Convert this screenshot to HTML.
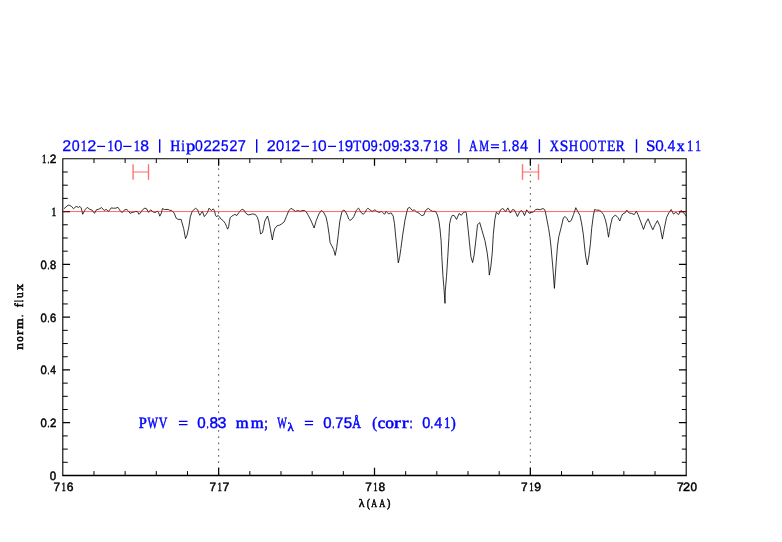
<!DOCTYPE html><html><head><meta charset="utf-8"><style>html,body{margin:0;padding:0;background:#fff;}svg{display:block;will-change:transform;}text{font-family:"Liberation Serif",serif;font-weight:normal;text-rendering:geometricPrecision;}</style></head><body>
<svg width="782" height="542" viewBox="0 0 782 542">
<rect width="782" height="542" fill="#fff"/>
<line x1="218.65" y1="158.80" x2="218.65" y2="475.50" stroke="#4a4a4a" stroke-width="1.0" stroke-dasharray="1.6 4.634" stroke-dashoffset="-9.5"/>
<line x1="530.35" y1="158.80" x2="530.35" y2="475.50" stroke="#4a4a4a" stroke-width="1.0" stroke-dasharray="1.6 4.634" stroke-dashoffset="-9.5"/>
<polyline points="64.0,208.7 68.1,205.1 69.7,205.4 71.5,206.4 73.5,208.7 76.1,206.4 78.4,207.4 79.9,206.4 81.2,207.9 82.7,214.3 84.0,211.8 85.5,209.2 87.3,207.4 89.6,209.2 92.2,210.2 94.5,213.3 96.5,209.7 98.8,209.2 101.6,207.6 104.2,210.5 106.1,209.4 108.6,211.4 111.2,207.9 113.4,208.2 115.7,208.2 117.9,207.3 119.2,209.2 120.5,211.4 122.4,212.4 124.6,209.8 126.9,209.5 128.5,211.1 130.1,213.4 132.0,212.4 133.9,212.1 135.8,211.4 137.7,211.8 139.0,214.3 140.3,213.0 142.5,209.8 144.8,208.2 146.4,208.6 148.6,212.4 150.6,209.8 153.4,212.1 155.4,212.4 157.6,211.1 158.5,212.4 159.8,216.2 161.4,213.0 162.4,208.6 164.6,209.5 168.1,209.4 169.4,210.2 171.7,210.5 172.2,210.9 174.1,213.1 176.3,218.3 178.1,219.4 181.1,219.4 181.8,222.0 183.7,228.6 185.5,238.6 187.0,235.3 188.8,227.1 190.3,216.8 192.2,211.3 195.5,208.3 197.7,209.8 198.6,212.7 199.8,215.3 201.1,213.3 202.4,211.4 204.3,216.6 206.2,214.3 207.5,212.4 209.1,208.2 211.3,210.5 213.3,208.9 214.5,210.8 215.5,215.3 216.4,216.6 218.3,215.5 219.4,216.9 221.1,219.1 223.3,220.8 225.2,223.3 226.6,226.6 227.6,229.1 228.6,227.1 229.4,221.6 230.2,217.7 231.9,216.1 233.8,215.0 234.9,214.4 236.9,215.5 238.8,212.7 240.5,210.5 242.1,209.3 243.8,210.0 245.8,213.2 248.2,214.9 250.0,214.6 252.8,213.9 255.5,214.6 257.4,217.4 258.8,222.0 259.7,228.4 260.6,234.0 262.5,232.6 263.6,227.5 264.8,221.1 267.5,216.0 268.9,221.1 270.3,228.4 271.7,236.7 272.4,240.0 273.5,233.1 274.9,228.4 277.2,225.7 279.5,225.2 281.8,223.8 284.1,222.0 286.4,216.5 288.7,210.9 291.0,208.3 292.9,209.5 295.5,211.4 297.8,210.5 300.0,211.4 302.2,210.5 304.5,210.5 306.4,212.1 308.6,215.9 311.2,221.0 314.1,228.0 316.3,220.4 318.9,214.0 321.4,210.4 323.5,212.1 326.1,217.2 327.6,224.3 329.1,234.4 330.1,242.6 331.7,245.6 333.7,249.7 335.2,255.4 336.7,247.6 338.2,235.5 339.8,221.2 341.8,212.1 343.3,210.1 344.8,210.6 347.4,215.3 348.7,219.1 350.0,220.4 351.9,219.1 353.8,216.6 355.1,213.3 356.4,210.2 358.5,208.1 359.9,210.5 361.2,212.7 363.4,214.3 365.0,212.4 366.6,209.5 367.9,208.2 369.8,209.8 372.1,211.4 373.6,210.5 374.9,209.8 376.8,211.4 379.1,212.4 381.6,211.4 382.9,212.7 384.5,214.3 386.1,211.4 388.7,214.0 390.6,213.0 391.2,212.9 393.2,216.1 394.5,223.8 395.7,236.8 397.0,249.7 398.3,262.9 399.6,257.4 400.9,248.4 402.8,234.2 405.0,220.1 406.8,212.0 407.9,208.3 409.7,207.4 412.3,210.5 414.2,209.8 416.7,212.0 419.0,213.1 421.5,215.7 423.8,215.0 425.6,210.5 428.2,208.3 430.4,210.2 432.6,211.3 435.6,211.4 437.4,215.0 438.9,220.9 440.0,229.0 441.1,240.7 441.8,256.3 442.9,275.2 443.9,287.7 445.0,303.4 445.3,290.9 446.5,276.7 447.8,256.3 448.9,237.5 449.6,223.8 451.0,217.9 452.4,215.3 454.3,215.7 456.5,219.4 459.1,213.5 461.3,215.3 463.5,212.4 465.7,211.8 466.4,213.5 467.9,227.1 469.4,241.9 470.9,256.7 472.6,262.6 474.1,255.2 476.0,239.0 477.5,224.9 479.7,222.5 481.9,230.1 484.9,240.4 487.1,252.2 488.6,264.0 489.3,275.1 490.8,267.0 492.3,252.2 493.3,234.5 494.8,219.8 496.3,212.2 498.6,214.4 500.5,209.8 502.7,208.5 504.0,209.5 505.6,211.7 507.8,207.9 509.1,210.5 510.4,213.0 512.6,209.5 514.5,210.1 516.1,213.3 517.4,216.5 519.7,211.7 521.6,210.5 523.2,212.7 524.5,215.6 526.7,209.8 528.0,211.7 529.2,213.3 530.8,212.4 533.4,212.1 535.6,209.5 537.9,209.2 540.1,209.8 543.0,208.5 544.5,209.5 545.4,211.8 546.8,219.2 548.6,228.4 550.0,237.7 551.1,247.8 552.9,268.1 554.4,288.4 556.2,262.6 557.5,246.0 558.8,236.7 561.1,227.5 563.4,217.8 565.2,216.5 567.1,218.8 568.9,222.0 571.2,220.6 573.5,214.6 575.8,207.7 577.7,211.4 580.0,215.5 581.7,223.9 583.4,234.9 584.5,246.0 585.6,256.0 587.3,264.8 588.9,256.0 590.4,243.8 591.7,228.3 593.3,215.9 594.6,209.5 596.5,210.1 599.4,210.3 601.0,211.3 603.5,214.6 605.4,219.8 606.9,226.5 607.6,231.6 608.5,237.2 609.4,231.6 610.6,225.0 612.4,217.6 615.4,215.0 617.9,217.6 619.8,220.9 621.4,216.5 622.7,214.0 624.9,213.0 626.8,210.1 629.1,213.0 631.3,213.3 634.2,214.6 636.4,211.1 638.0,214.6 640.8,222.0 643.5,229.4 645.8,222.9 648.1,218.8 650.5,224.8 652.8,229.8 655.1,224.8 657.4,220.6 660.1,226.6 662.4,239.1 664.3,228.4 666.6,217.4 668.9,212.8 671.2,209.5 673.5,214.1 675.8,212.3 678.6,214.6 680.9,210.5 683.2,212.3 685.5,215.1 686.1,216.3" fill="none" stroke="#000" stroke-width="0.8" stroke-linejoin="round"/>
<g stroke="#ff0000" stroke-opacity="0.55" stroke-width="1.4" fill="none"><line x1="133.1" y1="164.2" x2="133.1" y2="179.8"/><line x1="148.5" y1="164.2" x2="148.5" y2="179.8"/></g>
<line x1="133.7" y1="172" x2="147.9" y2="172" stroke="#ff0000" stroke-opacity="0.42" stroke-width="1.4"/>
<g stroke="#ff0000" stroke-opacity="0.55" stroke-width="1.4" fill="none"><line x1="522.5" y1="164.2" x2="522.5" y2="179.8"/><line x1="538.5" y1="164.2" x2="538.5" y2="179.8"/></g>
<line x1="523.1" y1="172" x2="537.9" y2="172" stroke="#ff0000" stroke-opacity="0.42" stroke-width="1.4"/>
<path d="M218.65 475.50V467.80M218.65 158.80V165.70M374.50 475.50V467.80M374.50 158.80V165.70M530.35 475.50V467.80M530.35 158.80V165.70M62.80 422.72H70.05M686.20 422.72H678.95M62.80 369.93H70.05M686.20 369.93H678.95M62.80 317.15H70.05M686.20 317.15H678.95M62.80 264.37H70.05M686.20 264.37H678.95M62.80 211.58H70.05M686.20 211.58H678.95" stroke="#000" stroke-width="1.25" fill="none"/>
<path d="M93.97 475.50V471.10M93.97 158.80V163.00M125.14 475.50V471.10M125.14 158.80V163.00M156.31 475.50V471.10M156.31 158.80V163.00M187.48 475.50V471.10M187.48 158.80V163.00M249.82 475.50V471.10M249.82 158.80V163.00M280.99 475.50V471.10M280.99 158.80V163.00M312.16 475.50V471.10M312.16 158.80V163.00M343.33 475.50V471.10M343.33 158.80V163.00M405.67 475.50V471.10M405.67 158.80V163.00M436.84 475.50V471.10M436.84 158.80V163.00M468.01 475.50V471.10M468.01 158.80V163.00M499.18 475.50V471.10M499.18 158.80V163.00M561.52 475.50V471.10M561.52 158.80V163.00M592.69 475.50V471.10M592.69 158.80V163.00M623.86 475.50V471.10M623.86 158.80V163.00M655.03 475.50V471.10M655.03 158.80V163.00M62.80 462.30H67.75M686.20 462.30H681.80M62.80 449.11H67.75M686.20 449.11H681.80M62.80 435.91H67.75M686.20 435.91H681.80M62.80 409.52H67.75M686.20 409.52H681.80M62.80 396.32H67.75M686.20 396.32H681.80M62.80 383.13H67.75M686.20 383.13H681.80M62.80 356.74H67.75M686.20 356.74H681.80M62.80 343.54H67.75M686.20 343.54H681.80M62.80 330.35H67.75M686.20 330.35H681.80M62.80 303.95H67.75M686.20 303.95H681.80M62.80 290.76H67.75M686.20 290.76H681.80M62.80 277.56H67.75M686.20 277.56H681.80M62.80 251.17H67.75M686.20 251.17H681.80M62.80 237.98H67.75M686.20 237.98H681.80M62.80 224.78H67.75M686.20 224.78H681.80M62.80 198.39H67.75M686.20 198.39H681.80M62.80 185.19H67.75M686.20 185.19H681.80M62.80 172.00H67.75M686.20 172.00H681.80" stroke="#000" stroke-width="1.0" fill="none"/>
<path d="M62.80 475.50V158.80M686.20 475.50V158.80M62.25 158.80H686.75" stroke="#000" stroke-width="1.1" fill="none"/>
<path d="M62.25 475.50H686.75" stroke="#000" stroke-width="1.3" fill="none"/>
<line x1="62.80" y1="211.58" x2="686.20" y2="211.58" stroke="#ff0000" stroke-width="1" stroke-opacity="0.6"/>
<text transform="translate(41.91,163.30) scale(0.688,1.000)" font-size="12.60" fill="#000" stroke="#000" stroke-width="0.55">1</text>
<text transform="translate(47.40,163.30) scale(0.571,1.000)" font-size="12.60" fill="#000" stroke="#000" stroke-width="0.55">.</text>
<text transform="translate(49.75,163.30) scale(0.941,0.962)" style='font-family:"Liberation Sans"' font-size="12.60" fill="#000" stroke="#000" stroke-width="0.5">2</text>
<text transform="translate(40.51,268.87) scale(0.897,0.962)" style='font-family:"Liberation Sans"' font-size="12.60" fill="#000" stroke="#000" stroke-width="0.5">0</text>
<text transform="translate(47.40,268.87) scale(0.571,1.000)" font-size="12.60" fill="#000" stroke="#000" stroke-width="0.55">.</text>
<text transform="translate(50.07,268.87) scale(0.880,0.962)" style='font-family:"Liberation Sans"' font-size="12.60" fill="#000" stroke="#000" stroke-width="0.5">8</text>
<text transform="translate(40.51,321.65) scale(0.897,0.962)" style='font-family:"Liberation Sans"' font-size="12.60" fill="#000" stroke="#000" stroke-width="0.5">0</text>
<text transform="translate(47.40,321.65) scale(0.571,1.000)" font-size="12.60" fill="#000" stroke="#000" stroke-width="0.55">.</text>
<text transform="translate(49.98,321.65) scale(0.894,0.962)" style='font-family:"Liberation Sans"' font-size="12.60" fill="#000" stroke="#000" stroke-width="0.5">6</text>
<text transform="translate(40.51,374.43) scale(0.897,0.962)" style='font-family:"Liberation Sans"' font-size="12.60" fill="#000" stroke="#000" stroke-width="0.5">0</text>
<text transform="translate(47.40,374.43) scale(0.571,1.000)" font-size="12.60" fill="#000" stroke="#000" stroke-width="0.55">.</text>
<text transform="translate(50.31,374.43) scale(0.819,0.962)" style='font-family:"Liberation Sans"' font-size="12.60" fill="#000" stroke="#000" stroke-width="0.5">4</text>
<text transform="translate(40.51,427.22) scale(0.897,0.962)" style='font-family:"Liberation Sans"' font-size="12.60" fill="#000" stroke="#000" stroke-width="0.5">0</text>
<text transform="translate(47.40,427.22) scale(0.571,1.000)" font-size="12.60" fill="#000" stroke="#000" stroke-width="0.55">.</text>
<text transform="translate(49.98,427.22) scale(0.906,0.962)" style='font-family:"Liberation Sans"' font-size="12.60" fill="#000" stroke="#000" stroke-width="0.5">2</text>
<text transform="translate(51.44,215.68) scale(0.755,1.000)" font-size="12.60" fill="#000" stroke="#000" stroke-width="0.55">1</text>
<text transform="translate(49.80,479.60) scale(0.913,0.962)" style='font-family:"Liberation Sans"' font-size="12.60" fill="#000" stroke="#000" stroke-width="0.5">0</text>
<text transform="translate(53.54,490.80) scale(0.943,0.962)" style='font-family:"Liberation Sans"' font-size="12.60" fill="#000" stroke="#000" stroke-width="0.5">7</text>
<text transform="translate(61.61,490.80) scale(0.688,1.000)" font-size="12.60" fill="#000" stroke="#000" stroke-width="0.55">1</text>
<text transform="translate(66.63,490.80) scale(0.963,0.962)" style='font-family:"Liberation Sans"' font-size="12.60" fill="#000" stroke="#000" stroke-width="0.5">6</text>
<text transform="translate(209.39,490.80) scale(0.943,0.962)" style='font-family:"Liberation Sans"' font-size="12.60" fill="#000" stroke="#000" stroke-width="0.5">7</text>
<text transform="translate(217.46,490.80) scale(0.688,1.000)" font-size="12.60" fill="#000" stroke="#000" stroke-width="0.55">1</text>
<text transform="translate(222.47,490.80) scale(0.978,0.962)" style='font-family:"Liberation Sans"' font-size="12.60" fill="#000" stroke="#000" stroke-width="0.5">7</text>
<text transform="translate(365.24,490.80) scale(0.943,0.962)" style='font-family:"Liberation Sans"' font-size="12.60" fill="#000" stroke="#000" stroke-width="0.5">7</text>
<text transform="translate(373.31,490.80) scale(0.688,1.000)" font-size="12.60" fill="#000" stroke="#000" stroke-width="0.55">1</text>
<text transform="translate(378.43,490.80) scale(0.947,0.962)" style='font-family:"Liberation Sans"' font-size="12.60" fill="#000" stroke="#000" stroke-width="0.5">8</text>
<text transform="translate(521.09,490.80) scale(0.943,0.962)" style='font-family:"Liberation Sans"' font-size="12.60" fill="#000" stroke="#000" stroke-width="0.5">7</text>
<text transform="translate(529.16,490.80) scale(0.688,1.000)" font-size="12.60" fill="#000" stroke="#000" stroke-width="0.55">1</text>
<text transform="translate(534.23,490.80) scale(0.962,0.962)" style='font-family:"Liberation Sans"' font-size="12.60" fill="#000" stroke="#000" stroke-width="0.5">9</text>
<text transform="translate(676.94,490.80) scale(0.943,0.962)" style='font-family:"Liberation Sans"' font-size="12.60" fill="#000" stroke="#000" stroke-width="0.5">7</text>
<text transform="translate(683.11,490.80) scale(1.010,0.962)" style='font-family:"Liberation Sans"' font-size="12.60" fill="#000" stroke="#000" stroke-width="0.5">2</text>
<text transform="translate(690.59,490.80) scale(0.930,0.962)" style='font-family:"Liberation Sans"' font-size="12.60" fill="#000" stroke="#000" stroke-width="0.5">0</text>
<text transform="translate(358.74,506.80) scale(1.093,1.050)" font-size="10.90" fill="#000" stroke="#000" stroke-width="0.5">λ</text>
<text transform="translate(366.82,506.50) scale(0.893,1.100)" font-size="10.90" fill="#000" stroke="#000" stroke-width="0.5">(</text>
<text transform="translate(371.27,506.60) scale(0.722,1.000)" font-size="11.20" fill="#000" stroke="#000" stroke-width="0.5">A</text>
<text transform="translate(379.17,506.60) scale(0.747,1.000)" font-size="11.20" fill="#000" stroke="#000" stroke-width="0.5">A</text>
<text transform="translate(387.12,506.50) scale(0.929,1.100)" font-size="10.90" fill="#000" stroke="#000" stroke-width="0.5">)</text>
<text transform="translate(22.75,349.84) rotate(-90) scale(1.118,1)" font-size="12.10" fill="#000" stroke="#000" stroke-width="0.55">n</text>
<text transform="translate(22.75,341.84) rotate(-90) scale(0.907,1)" font-size="12.10" fill="#000" stroke="#000" stroke-width="0.55">o</text>
<text transform="translate(22.75,334.89) rotate(-90) scale(1.100,1)" font-size="12.10" fill="#000" stroke="#000" stroke-width="0.55">r</text>
<text transform="translate(22.75,329.11) rotate(-90) scale(1.132,1)" font-size="12.10" fill="#000" stroke="#000" stroke-width="0.55">m</text>
<text transform="translate(22.75,317.01) rotate(-90) scale(0.734,1)" font-size="12.10" fill="#000" stroke="#000" stroke-width="0.55">.</text>
<text transform="translate(22.75,307.19) rotate(-90) scale(0.971,1)" font-size="12.10" fill="#000" stroke="#000" stroke-width="0.55">f</text>
<text transform="translate(22.75,301.97) rotate(-90) scale(0.608,1)" font-size="12.10" fill="#000" stroke="#000" stroke-width="0.55">l</text>
<text transform="translate(22.75,297.88) rotate(-90) scale(0.941,1)" font-size="12.10" fill="#000" stroke="#000" stroke-width="0.55">u</text>
<text transform="translate(22.75,290.75) rotate(-90) scale(1.130,1)" font-size="12.10" fill="#000" stroke="#000" stroke-width="0.55">x</text>
<text transform="translate(62.24,150.75) scale(0.989,0.962)" style='font-family:"Liberation Sans"' font-size="16.20" fill="#0000ff" stroke="#0000ff" stroke-width="0.3">2</text>
<text transform="translate(71.69,150.75) scale(0.878,0.962)" style='font-family:"Liberation Sans"' font-size="16.20" fill="#0000ff" stroke="#0000ff" stroke-width="0.3">0</text>
<text transform="translate(80.80,150.70) scale(0.791,1.000)" font-size="15.80" fill="#0000ff" stroke="#0000ff" stroke-width="0.4">1</text>
<text transform="translate(87.13,150.75) scale(1.003,0.962)" style='font-family:"Liberation Sans"' font-size="16.20" fill="#0000ff" stroke="#0000ff" stroke-width="0.3">2</text>
<line x1="97.10" y1="146.4" x2="105.10" y2="146.4" stroke="#0000ff" stroke-width="1.25"/>
<text transform="translate(107.60,150.70) scale(0.791,1.000)" font-size="15.80" fill="#0000ff" stroke="#0000ff" stroke-width="0.4">1</text>
<text transform="translate(114.18,150.75) scale(0.904,0.962)" style='font-family:"Liberation Sans"' font-size="16.20" fill="#0000ff" stroke="#0000ff" stroke-width="0.3">0</text>
<line x1="123.20" y1="146.4" x2="131.50" y2="146.4" stroke="#0000ff" stroke-width="1.25"/>
<text transform="translate(133.80,150.70) scale(0.791,1.000)" font-size="15.80" fill="#0000ff" stroke="#0000ff" stroke-width="0.4">1</text>
<text transform="translate(140.26,150.75) scale(0.973,0.962)" style='font-family:"Liberation Sans"' font-size="16.20" fill="#0000ff" stroke="#0000ff" stroke-width="0.3">8</text>
<line x1="159.70" y1="139.2" x2="159.70" y2="152.7" stroke="#0000ff" stroke-width="1.4"/>
<text transform="translate(170.30,150.70) scale(0.877,1.000)" font-size="15.80" fill="#0000ff" stroke="#0000ff" stroke-width="0.4">H</text>
<text transform="translate(181.23,150.70) scale(0.825,1.000)" font-size="15.80" fill="#0000ff" stroke="#0000ff" stroke-width="0.4">i</text>
<text transform="translate(186.00,150.70) scale(1.181,1.000)" font-size="15.80" fill="#0000ff" stroke="#0000ff" stroke-width="0.4">p</text>
<text transform="translate(194.90,150.75) scale(0.865,0.962)" style='font-family:"Liberation Sans"' font-size="16.20" fill="#0000ff" stroke="#0000ff" stroke-width="0.3">0</text>
<text transform="translate(203.27,150.75) scale(0.962,0.962)" style='font-family:"Liberation Sans"' font-size="16.20" fill="#0000ff" stroke="#0000ff" stroke-width="0.3">2</text>
<text transform="translate(211.87,150.75) scale(0.962,0.962)" style='font-family:"Liberation Sans"' font-size="16.20" fill="#0000ff" stroke="#0000ff" stroke-width="0.3">2</text>
<text transform="translate(221.11,150.75) scale(0.833,0.962)" style='font-family:"Liberation Sans"' font-size="16.20" fill="#0000ff" stroke="#0000ff" stroke-width="0.3">5</text>
<text transform="translate(229.21,150.75) scale(0.908,0.962)" style='font-family:"Liberation Sans"' font-size="16.20" fill="#0000ff" stroke="#0000ff" stroke-width="0.3">2</text>
<text transform="translate(237.81,150.75) scale(0.896,0.962)" style='font-family:"Liberation Sans"' font-size="16.20" fill="#0000ff" stroke="#0000ff" stroke-width="0.3">7</text>
<line x1="256.70" y1="139.2" x2="256.70" y2="152.7" stroke="#0000ff" stroke-width="1.4"/>
<text transform="translate(266.73,150.75) scale(1.003,0.962)" style='font-family:"Liberation Sans"' font-size="16.20" fill="#0000ff" stroke="#0000ff" stroke-width="0.3">2</text>
<text transform="translate(275.98,150.75) scale(0.904,0.962)" style='font-family:"Liberation Sans"' font-size="16.20" fill="#0000ff" stroke="#0000ff" stroke-width="0.3">0</text>
<text transform="translate(285.00,150.70) scale(0.791,1.000)" font-size="15.80" fill="#0000ff" stroke="#0000ff" stroke-width="0.4">1</text>
<text transform="translate(291.33,150.75) scale(1.003,0.962)" style='font-family:"Liberation Sans"' font-size="16.20" fill="#0000ff" stroke="#0000ff" stroke-width="0.3">2</text>
<line x1="301.30" y1="146.4" x2="308.90" y2="146.4" stroke="#0000ff" stroke-width="1.25"/>
<text transform="translate(311.63,150.70) scale(0.773,1.000)" font-size="15.80" fill="#0000ff" stroke="#0000ff" stroke-width="0.4">1</text>
<text transform="translate(318.05,150.75) scale(0.956,0.962)" style='font-family:"Liberation Sans"' font-size="16.20" fill="#0000ff" stroke="#0000ff" stroke-width="0.3">0</text>
<line x1="328.10" y1="146.4" x2="336.00" y2="146.4" stroke="#0000ff" stroke-width="1.25"/>
<text transform="translate(338.00,150.70) scale(0.791,1.000)" font-size="15.80" fill="#0000ff" stroke="#0000ff" stroke-width="0.4">1</text>
<text transform="translate(344.74,150.75) scale(0.935,0.962)" style='font-family:"Liberation Sans"' font-size="16.20" fill="#0000ff" stroke="#0000ff" stroke-width="0.3">9</text>
<text transform="translate(353.26,150.70) scale(0.824,1.000)" font-size="15.80" fill="#0000ff" stroke="#0000ff" stroke-width="0.4">T</text>
<text transform="translate(362.05,150.75) scale(0.956,0.962)" style='font-family:"Liberation Sans"' font-size="16.20" fill="#0000ff" stroke="#0000ff" stroke-width="0.3">0</text>
<text transform="translate(370.54,150.75) scale(0.802,0.962)" style='font-family:"Liberation Sans"' font-size="16.20" fill="#0000ff" stroke="#0000ff" stroke-width="0.3">9</text>
<text transform="translate(378.39,150.70) scale(0.968,1.000)" font-size="15.80" fill="#0000ff" stroke="#0000ff" stroke-width="0.4">:</text>
<text transform="translate(382.78,150.75) scale(0.904,0.962)" style='font-family:"Liberation Sans"' font-size="16.20" fill="#0000ff" stroke="#0000ff" stroke-width="0.3">0</text>
<text transform="translate(391.26,150.75) scale(0.909,0.962)" style='font-family:"Liberation Sans"' font-size="16.20" fill="#0000ff" stroke="#0000ff" stroke-width="0.3">9</text>
<text transform="translate(399.29,150.70) scale(0.807,1.000)" font-size="15.80" fill="#0000ff" stroke="#0000ff" stroke-width="0.4">:</text>
<text transform="translate(402.90,150.75) scale(0.885,0.962)" style='font-family:"Liberation Sans"' font-size="16.20" fill="#0000ff" stroke="#0000ff" stroke-width="0.3">3</text>
<text transform="translate(411.64,150.75) scale(0.833,0.962)" style='font-family:"Liberation Sans"' font-size="16.20" fill="#0000ff" stroke="#0000ff" stroke-width="0.3">3</text>
<text transform="translate(420.33,150.70) scale(0.643,1.000)" font-size="15.80" fill="#0000ff" stroke="#0000ff" stroke-width="0.4">.</text>
<text transform="translate(423.06,150.75) scale(0.951,0.962)" style='font-family:"Liberation Sans"' font-size="16.20" fill="#0000ff" stroke="#0000ff" stroke-width="0.3">7</text>
<text transform="translate(433.00,150.70) scale(0.791,1.000)" font-size="15.80" fill="#0000ff" stroke="#0000ff" stroke-width="0.4">1</text>
<text transform="translate(439.50,150.75) scale(0.921,0.962)" style='font-family:"Liberation Sans"' font-size="16.20" fill="#0000ff" stroke="#0000ff" stroke-width="0.3">8</text>
<line x1="458.85" y1="139.2" x2="458.85" y2="152.7" stroke="#0000ff" stroke-width="1.4"/>
<text transform="translate(469.09,150.70) scale(0.745,1.000)" font-size="15.80" fill="#0000ff" stroke="#0000ff" stroke-width="0.4">A</text>
<text transform="translate(479.18,150.70) scale(0.701,1.000)" font-size="15.80" fill="#0000ff" stroke="#0000ff" stroke-width="0.4">M</text>
<path d="M490.90 144.9H499.00M490.90 147.5H499.00" stroke="#0000ff" stroke-width="1.25"/>
<text transform="translate(501.40,150.70) scale(0.791,1.000)" font-size="15.80" fill="#0000ff" stroke="#0000ff" stroke-width="0.4">1</text>
<text transform="translate(508.33,150.70) scale(0.643,1.000)" font-size="15.80" fill="#0000ff" stroke="#0000ff" stroke-width="0.4">.</text>
<text transform="translate(511.66,150.75) scale(0.842,0.962)" style='font-family:"Liberation Sans"' font-size="16.20" fill="#0000ff" stroke="#0000ff" stroke-width="0.3">8</text>
<text transform="translate(519.92,150.75) scale(0.894,0.962)" style='font-family:"Liberation Sans"' font-size="16.20" fill="#0000ff" stroke="#0000ff" stroke-width="0.3">4</text>
<line x1="539.40" y1="139.2" x2="539.40" y2="152.7" stroke="#0000ff" stroke-width="1.4"/>
<text transform="translate(549.72,150.70) scale(0.798,1.000)" font-size="15.80" fill="#0000ff" stroke="#0000ff" stroke-width="0.4">X</text>
<text transform="translate(559.87,150.70) scale(0.978,1.000)" font-size="15.80" fill="#0000ff" stroke="#0000ff" stroke-width="0.4">S</text>
<text transform="translate(568.83,150.70) scale(0.820,1.000)" font-size="15.80" fill="#0000ff" stroke="#0000ff" stroke-width="0.4">H</text>
<text transform="translate(579.59,150.70) scale(0.781,1.000)" font-size="15.80" fill="#0000ff" stroke="#0000ff" stroke-width="0.4">O</text>
<text transform="translate(588.75,150.70) scale(0.702,1.000)" font-size="15.80" fill="#0000ff" stroke="#0000ff" stroke-width="0.4">O</text>
<text transform="translate(598.06,150.70) scale(0.835,1.000)" font-size="15.80" fill="#0000ff" stroke="#0000ff" stroke-width="0.4">T</text>
<text transform="translate(606.90,150.70) scale(0.868,1.000)" font-size="15.80" fill="#0000ff" stroke="#0000ff" stroke-width="0.4">E</text>
<text transform="translate(615.81,150.70) scale(0.855,1.000)" font-size="15.80" fill="#0000ff" stroke="#0000ff" stroke-width="0.4">R</text>
<line x1="636.50" y1="139.2" x2="636.50" y2="152.7" stroke="#0000ff" stroke-width="1.4"/>
<text transform="translate(645.96,150.70) scale(1.081,1.000)" font-size="15.80" fill="#0000ff" stroke="#0000ff" stroke-width="0.4">S</text>
<text transform="translate(655.15,150.75) scale(0.943,0.962)" style='font-family:"Liberation Sans"' font-size="16.20" fill="#0000ff" stroke="#0000ff" stroke-width="0.3">0</text>
<text transform="translate(663.86,150.70) scale(0.803,1.000)" font-size="15.80" fill="#0000ff" stroke="#0000ff" stroke-width="0.4">.</text>
<text transform="translate(667.53,150.75) scale(0.870,0.962)" style='font-family:"Liberation Sans"' font-size="16.20" fill="#0000ff" stroke="#0000ff" stroke-width="0.3">4</text>
<text transform="translate(676.86,150.70) scale(1.004,1.000)" font-size="15.80" fill="#0000ff" stroke="#0000ff" stroke-width="0.4">x</text>
<text transform="translate(687.10,150.70) scale(0.791,1.000)" font-size="15.80" fill="#0000ff" stroke="#0000ff" stroke-width="0.4">1</text>
<text transform="translate(695.20,150.70) scale(0.719,1.000)" font-size="15.80" fill="#0000ff" stroke="#0000ff" stroke-width="0.4">1</text>
<text transform="translate(138.76,427.50) scale(0.916,1.000)" font-size="15.80" fill="#0000ff" stroke="#0000ff" stroke-width="0.55">P</text>
<text transform="translate(147.46,427.50) scale(0.696,1.000)" font-size="15.80" fill="#0000ff" stroke="#0000ff" stroke-width="0.55">W</text>
<text transform="translate(158.84,427.50) scale(0.755,1.000)" font-size="15.80" fill="#0000ff" stroke="#0000ff" stroke-width="0.55">V</text>
<path d="M178.90 421.4H187.50M178.90 424.7H187.50" stroke="#0000ff" stroke-width="1.3"/>
<text transform="translate(197.33,427.70) scale(0.948,0.962)" style='font-family:"Liberation Sans"' font-size="16.00" fill="#0000ff" stroke="#0000ff" stroke-width="0.45">0</text>
<text transform="translate(206.39,427.50) scale(0.562,1.000)" font-size="15.80" fill="#0000ff" stroke="#0000ff" stroke-width="0.55">.</text>
<text transform="translate(209.45,427.70) scale(0.966,0.962)" style='font-family:"Liberation Sans"' font-size="16.00" fill="#0000ff" stroke="#0000ff" stroke-width="0.45">8</text>
<text transform="translate(217.83,427.70) scale(0.969,0.962)" style='font-family:"Liberation Sans"' font-size="16.00" fill="#0000ff" stroke="#0000ff" stroke-width="0.45">3</text>
<text transform="translate(235.83,427.50) scale(1.046,1.000)" font-size="15.80" fill="#0000ff" stroke="#0000ff" stroke-width="0.55">m</text>
<text transform="translate(250.83,427.50) scale(1.046,1.000)" font-size="15.80" fill="#0000ff" stroke="#0000ff" stroke-width="0.55">m</text>
<text transform="translate(264.30,427.50) scale(0.826,1.000)" font-size="15.80" fill="#0000ff" stroke="#0000ff" stroke-width="0.55">;</text>
<text transform="translate(277.17,427.50) scale(0.642,1.000)" font-size="15.80" fill="#0000ff" stroke="#0000ff" stroke-width="0.55">W</text>
<path d="M304.80 421.4H313.10M304.80 424.7H313.10" stroke="#0000ff" stroke-width="1.3"/>
<text transform="translate(323.34,427.70) scale(0.935,0.962)" style='font-family:"Liberation Sans"' font-size="16.00" fill="#0000ff" stroke="#0000ff" stroke-width="0.45">0</text>
<text transform="translate(332.29,427.50) scale(0.562,1.000)" font-size="15.80" fill="#0000ff" stroke="#0000ff" stroke-width="0.55">.</text>
<text transform="translate(335.29,427.70) scale(0.901,0.962)" style='font-family:"Liberation Sans"' font-size="16.00" fill="#0000ff" stroke="#0000ff" stroke-width="0.45">7</text>
<text transform="translate(343.82,427.70) scale(0.943,0.962)" style='font-family:"Liberation Sans"' font-size="16.00" fill="#0000ff" stroke="#0000ff" stroke-width="0.45">5</text>
<text transform="translate(352.26,427.50) scale(0.759,1.000)" font-size="15.80" fill="#0000ff" stroke="#0000ff" stroke-width="0.55">Å</text>
<text transform="translate(372.25,427.50) scale(0.899,1.000)" font-size="15.80" fill="#0000ff" stroke="#0000ff" stroke-width="0.55">(</text>
<text transform="translate(377.64,427.50) scale(1.055,1.000)" font-size="15.80" fill="#0000ff" stroke="#0000ff" stroke-width="0.55">c</text>
<text transform="translate(385.21,427.50) scale(1.113,1.000)" font-size="15.80" fill="#0000ff" stroke="#0000ff" stroke-width="0.55">o</text>
<text transform="translate(394.07,427.50) scale(1.280,1.000)" font-size="15.80" fill="#0000ff" stroke="#0000ff" stroke-width="0.55">r</text>
<text transform="translate(401.77,427.50) scale(1.280,1.000)" font-size="15.80" fill="#0000ff" stroke="#0000ff" stroke-width="0.55">r</text>
<text transform="translate(409.57,427.50) scale(0.726,1.000)" font-size="15.80" fill="#0000ff" stroke="#0000ff" stroke-width="0.55">:</text>
<text transform="translate(422.16,427.70) scale(0.909,0.962)" style='font-family:"Liberation Sans"' font-size="16.00" fill="#0000ff" stroke="#0000ff" stroke-width="0.45">0</text>
<text transform="translate(430.38,427.50) scale(0.670,1.000)" font-size="15.80" fill="#0000ff" stroke="#0000ff" stroke-width="0.55">.</text>
<text transform="translate(434.19,427.70) scale(0.899,0.962)" style='font-family:"Liberation Sans"' font-size="16.00" fill="#0000ff" stroke="#0000ff" stroke-width="0.45">4</text>
<text transform="translate(444.14,427.50) scale(0.746,1.000)" font-size="15.80" fill="#0000ff" stroke="#0000ff" stroke-width="0.55">1</text>
<text transform="translate(451.02,427.50) scale(0.899,1.000)" font-size="15.80" fill="#0000ff" stroke="#0000ff" stroke-width="0.55">)</text>
<text transform="translate(287.43,431.10) scale(1.076,1.000)" font-size="12.00" fill="#0000ff" stroke="#0000ff" stroke-width="0.55">λ</text>
</svg></body></html>
